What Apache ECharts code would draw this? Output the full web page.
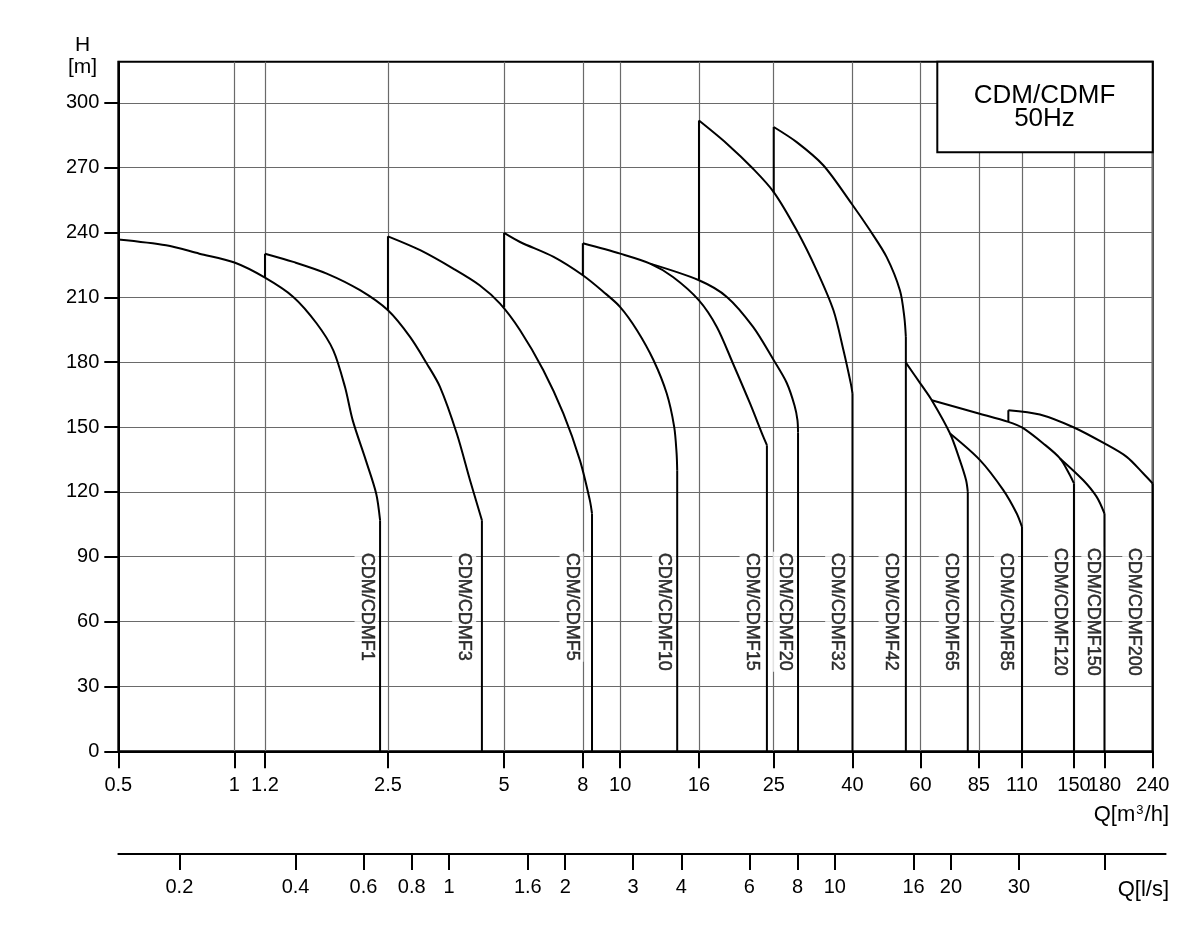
<!DOCTYPE html>
<html><head><meta charset="utf-8">
<script src="https://cdn.jsdelivr.net/npm/echarts@6/dist/echarts.min.js"></script>
<style>html,body{margin:0;padding:0;background:#fff}#c{width:1200px;height:933px}</style>
</head><body><div id="c"></div>
<script>
// ---- tick values ----
const qTicks = [0.5, 1, 1.2, 2.5, 5, 8, 10, 16, 25, 40, 60, 85, 110, 150, 180, 240];
const lsTicks = [0.2, 0.4, 0.6, 0.8, 1, 1.6, 2, 3, 4, 6, 8, 10, 16, 20, 30, 50];
const lsLabels = [0.2, 0.4, 0.6, 0.8, 1, 1.6, 2, 3, 4, 6, 8, 10, 16, 20, 30];
const hTicks = [0, 30, 60, 90, 120, 150, 180, 210, 240, 270, 300];

// ---- pump curves [Q m3/h, H m] (a repeated first Q = vertical start segment) ----
const CDMF1 = [[0.5,236.8],[0.665,234.1],[0.811,230.2],[1.0,226.1],[1.2,219.1],[1.421,210.2],[1.634,197.9],[1.804,185.5],[1.934,168.6],[2.025,153.2],[2.19,134.7],[2.33,119.3],[2.385,106.9]];
const CDMF3 = [[1.2,219.1],[1.2,230.2],[1.421,226.4],[1.735,221.0],[2.116,213.3],[2.5,204.0],[2.852,191.7],[3.151,179.4],[3.41,168.6],[3.77,147.0],[4.08,125.4],[4.38,106.9]];
const CDMF5 = [[2.5,204.0],[2.5,238.2],[3.03,231.8],[3.69,223.3],[4.32,215.6],[4.88,207.1],[5.5,194.8],[6.32,176.3],[7.12,156.3],[7.86,134.7],[8.34,116.2],[8.45,110.0]];
const CDMF10 = [[5,205.5],[5,239.8],[5.5,235.6],[6.72,228.7],[8,220.2],[9.05,212.5],[10,205.5],[11.05,194.8],[12.2,180.9],[13.2,165.5],[13.8,150.1],[14.0,137.8],[14.05,130.0]];
const CDMF15 = [[8,220.2],[8,235.0],[10,230.2],[11.95,225.6],[13.7,219.4],[16,208.6],[17.8,196.3],[19.6,179.4],[21.7,160.9],[23.5,145.4],[24,141.6]];
const CDMF20 = [[11.95,225.6],[16,217.9],[18.9,210.2],[22.1,196.3],[25,180.9],[27.0,170.5],[28.3,160.0],[28.8,153.2],[28.9,147.5]];
const CDMF32 = [[16,218.3],[16,291.8],[18.9,281.1],[22.1,269.5],[25,258.7],[28.67,241.0],[32.3,222.5],[35.7,204.0],[37.9,185.5],[39.6,170.1],[40,165.5]];
const CDMF42 = [[25,258.4],[25,288.8],[28.67,281.8],[33.6,271.1],[39.8,253.3],[44.4,241.0],[49.05,228.6],[53.1,213.2],[54.5,200.9],[55,191.7]];
const CDMF65 = [[55,179.8],[60,170.1],[64.2,162.4],[71.6,147.0],[75.9,134.7],[78.8,125.4],[79.6,120.0]];
const CDMF85 = [[71.6,147.0],[85.6,134.7],[98.4,120.8],[106.6,110.0],[110,103.8]];
const CDMF120 = [[64.2,162.4],[85,156.3],[101.4,152.4],[110,149.8],[124.9,142.4],[138,135.5],[146.5,127.7],[150,123.9]];
const CDMF150 = [[138,135.5],[158.6,125.4],[171.8,117.7],[180,110.0]];
const CDMF200 = [[101.4,152.4],[101.4,157.8],[122.4,155.8],[150,149.8],[180,142.4],[205.5,136.2],[226.9,128.5],[240,123.9]];

// ---- curve labels ----
const labelNames = ['CDM/CDMF1','CDM/CDMF3','CDM/CDMF5','CDM/CDMF10','CDM/CDMF15','CDM/CDMF20','CDM/CDMF32','CDM/CDMF42','CDM/CDMF65','CDM/CDMF85','CDM/CDMF120','CDM/CDMF150','CDM/CDMF200'];
const labelQ = [2.2, 3.94, 7.48, 13.0, 21.9, 26.7, 36.5, 50.2, 71.9, 100, 138, 168.4, 215];
const labelH = [92.3, 92.3, 92.3, 92.3, 92.3, 92.3, 92.3, 92.3, 92.3, 92.3, 94.6, 94.6, 94.6];

const curves = [CDMF1, CDMF3, CDMF5, CDMF10, CDMF15, CDMF20, CDMF32, CDMF42, CDMF65, CDMF85, CDMF120, CDMF150, CDMF200];

const FONT = '"Liberation Sans", Arial, sans-serif';
const lineBase = {type:'line', showSymbol:false, symbol:'none', silent:true, animation:false,
  lineStyle:{color:'#000', width:2}, emphasis:{disabled:true}, z:3};
const series = [];
curves.forEach(pts => {
  let body = pts;
  if (pts.length > 1 && pts[0][0] === pts[1][0]) {
    series.push(Object.assign({}, lineBase, {data:[pts[0], pts[1]]}));
    body = pts.slice(1);
  }
  series.push(Object.assign({}, lineBase, {data: body, smooth: 0.3}));
  const last = body[body.length - 1];
  series.push(Object.assign({}, lineBase, {data:[last, [last[0], 0]]}));
});
series.push({
  type:'scatter', symbolSize:1, silent:true, animation:false, z:2,
  itemStyle:{color:'rgba(0,0,0,0)'},
  data: labelNames.map((n, i) => [labelQ[i], labelH[i], n]),
  label:{show:true, position:'inside', rotate:-90, align:'left', verticalAlign:'middle',
    formatter: p => p.data[2], color:'#000', fontSize:18, fontFamily:FONT,
    textBorderWidth:0.5, textBorderColor:'#000', textShadowBlur:0,
    backgroundColor:'#fff', padding:[3,1,3,1]}
});

const fmt = v => String(+(+v).toPrecision(6));
const gridLine = {show:true, lineStyle:{color:'#6a6a6a', width:1.2}};

const option = {
  animation:false,
  grid:[
    {left:118.3, right:47.3, top:61.7, bottom:181.7, show:true, borderColor:'#000', borderWidth:2, containLabel:false},
    {left:118.3, right:34.4, top:853, height:1, show:false, containLabel:false}
  ],
  xAxis:[
    {type:'log', logBase:10, min:0.5, max:240, gridIndex:0, position:'bottom',
     axisLine:{show:true, lineStyle:{color:'#000', width:2}},
     axisTick:{show:true, length:17, customValues:qTicks, lineStyle:{color:'#000', width:2}},
     axisLabel:{show:true, customValues:qTicks, margin:24, color:'#000', fontSize:20, fontFamily:FONT, formatter:fmt},
     splitLine:gridLine, minorTick:{show:false}, minorSplitLine:{show:false}},
    {type:'log', logBase:10, min:0.5/3.6, max:72, gridIndex:1, position:'bottom',
     axisLine:{show:true, lineStyle:{color:'#000', width:2}},
     axisTick:{show:true, length:16, customValues:lsTicks, lineStyle:{color:'#000', width:2}},
     axisLabel:{show:true, customValues:lsLabels, margin:23, color:'#000', fontSize:20, fontFamily:FONT, formatter:fmt},
     splitLine:{show:false}}
  ],
  yAxis:[
    {type:'value', min:0, max:319, gridIndex:0,
     axisLine:{show:true, lineStyle:{color:'#000', width:2}},
     axisTick:{show:true, length:14, customValues:hTicks, lineStyle:{color:'#000', width:2}},
     axisLabel:{show:true, customValues:hTicks, margin:19, color:'#000', fontSize:20, fontFamily:FONT},
     splitLine:gridLine},
    {type:'value', min:0, max:1, gridIndex:1, show:false}
  ],
  graphic:[
    {type:'rect', shape:{x:937.3, y:61.7, width:215.4, height:90.6}, style:{fill:'#fff', stroke:'#000', lineWidth:2}, z:100, silent:true},
    {type:'text', x:1044.5, y:107.5, z:101, silent:true,
     style:{text:'CDM/CDMF\n50Hz', fill:'#000', font:'26px ' + FONT, align:'center', textAlign:'center', verticalAlign:'middle', textVerticalAlign:'middle', lineHeight:23}},
    {type:'text', x:82.5, y:45, z:101, silent:true,
     style:{text:'H', fill:'#000', font:'21px ' + FONT, align:'center', textAlign:'center', verticalAlign:'middle', textVerticalAlign:'middle'}},
    {type:'text', x:82.5, y:67.5, z:101, silent:true,
     style:{text:'[m]', fill:'#000', font:'21px ' + FONT, align:'center', textAlign:'center', verticalAlign:'middle', textVerticalAlign:'middle'}},
    {type:'text', x:1169, y:815, z:101, silent:true,
     style:{text:'Q[m{s|3}/h]', fill:'#000', font:'22px ' + FONT, align:'right', textAlign:'right', verticalAlign:'middle', textVerticalAlign:'middle',
       rich:{s:{fontSize:13, fontFamily:FONT, fill:'#000', color:'#000', verticalAlign:'top', padding:[0,1,0,1]}}}},
    {type:'text', x:1169, y:890, z:101, silent:true,
     style:{text:'Q[l/s]', fill:'#000', font:'22px ' + FONT, align:'right', textAlign:'right', verticalAlign:'middle', textVerticalAlign:'middle'}}
  ],
  series: series
};
const chart = echarts.init(document.getElementById('c'), null, {renderer:'canvas'});
chart.setOption(option);
</script>
</body></html>
